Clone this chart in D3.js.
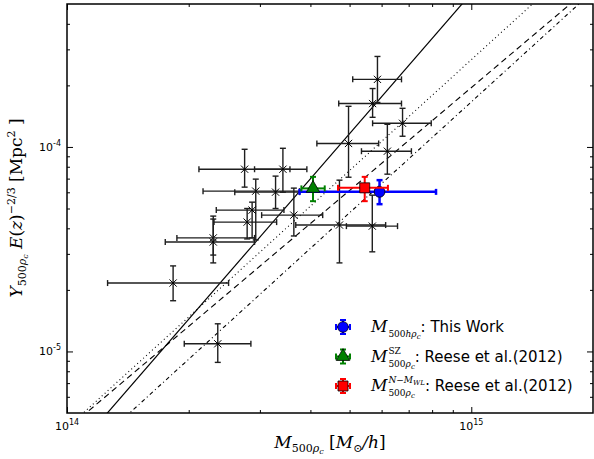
<!DOCTYPE html>
<html>
<head>
<meta charset="utf-8">
<script src="https://cdn.jsdelivr.net/npm/d3@7"></script>
<style>
body { margin: 0; background: #fff; }
svg { display: block; }
text { font-family: "DejaVu Sans", sans-serif; }
.math { font-family: "DejaVu Serif", serif; font-style: italic; }
.rm { font-family: "DejaVu Serif", serif; font-style: normal; }
</style>
</head>
<body>
<svg width="594" height="459"></svg>
<script>
// cluster sample, mass in 1e14 Msun/h, Y in 1e-5 Mpc^2
var mass   = [5.86, 5.70, 6.76, 4.97, 6.20, 2.75, 3.42, 2.93, 3.28, 2.87, 2.79, 3.64, 2.30, 2.30, 1.83, 2.36, 4.72, 5.69]
var massLo = [5.09, 4.70, 5.70, 4.15, 5.35, 2.12, 2.91, 2.17, 2.60, 2.34, 2.31, 3.03, 1.87, 1.75, 1.26, 1.95, 3.68, 4.91]
var massHi = [6.72, 6.72, 7.96, 5.90, 7.11, 3.56, 3.92, 3.76, 3.76, 3.44, 3.30, 4.29, 2.91, 2.91, 2.51, 2.85, 6.14, 6.57]
var ysz    = [21.4, 16.3, 13.05, 10.4, 9.53, 7.78, 7.78, 6.08, 6.01, 4.91, 4.29, 4.64, 3.59, 3.43, 2.16, 1.09, 4.15, 4.10]
var yszLo  = [16.5, 13.96, 11.28, 7.11, 7.36, 6.36, 6.01, 3.51, 5.0, 3.59, 3.55, 3.67, 2.96, 2.71, 1.77, 0.884, 2.71, 3.07]
var yszHi  = [27.7, 19.3, 15.45, 15.8, 12.9, 9.74, 9.85, 6.96, 7.2, 5.37, 5.0, 6.29, 4.59, 4.44, 2.62, 1.365, 6.88, 5.81]

// stacked mass estimates
var stackNames = ["This Work", "Reese et al.(2012)", "Reese et al.(2012)"]
var stackMass   = [5.93, 4.06, 5.45]
var stackMassLo = [3.76, 3.80, 4.68]
var stackMassHi = [8.18, 4.34, 6.22]
var stackY      = [6.03, 6.27, 6.31]
var stackYLo    = [5.25, 5.43, 5.43]
var stackYHi    = [6.88, 7.14, 7.14]
var stackColor  = ["#0000ff", "#008000", "#ff0000"]
var stackShape  = ["circle", "triangle", "square"]
var legSub = ["500hρ", "500ρ", "500ρ"]
var legSup = ["", "SZ", "N−M"]

// scaling relations Y = norm * (M / 1e15)^slope, norm in 1e-5
var relNorm  = [56.4, 26.7, 19.5, 16.6]
var relSlope = [2.28, 1.80, 1.67, 1.80]
var relDash  = [null, "1,3", "6,4", "4,3,1,3"]

var xTicks = [1e14, 1e15]
var yTicks = [1e-5, 1e-4]

var margin = { left: 67, top: 4, right: 1, bottom: 46 }
var width = 594 - margin.left - margin.right,
    height = 459 - margin.top - margin.bottom

var svg = d3.select("svg")
var g = svg.append("g").attr("transform", "translate(" + margin.left + "," + margin.top + ")")

var x = d3.scaleLog().domain([1e14, 2e15]).range([0, width])
var y = d3.scaleLog().domain([5e-6, 5e-4]).range([height, 0])

svg.append("clipPath").attr("id", "clip").append("rect")
    .attr("width", width).attr("height", height)

var plot = g.append("g").attr("clip-path", "url(#clip)")

// relations
relNorm.forEach(function(n, i) {
    var f = function(m) { return n * 1e-5 * Math.pow(m / 1e15, relSlope[i]) }
    var pts = [0.8e14, 2.5e15].map(function(m) { return [x(m), y(f(m))] })
    plot.append("path")
        .attr("d", d3.line()(pts))
        .attr("fill", "none")
        .attr("stroke", "#000")
        .attr("stroke-width", i == 0 ? 1.2 : 1.1)
        .attr("stroke-dasharray", relDash[i])
})

var cap = 3
function errbar(sel, cx, cy, x0, x1, y0, y1, color, sw) {
    var e = sel.append("g").attr("stroke", color).attr("stroke-width", sw).attr("fill", "none")
    e.append("line").attr("x1", x0).attr("x2", x1).attr("y1", cy).attr("y2", cy)
    e.append("line").attr("x1", cx).attr("x2", cx).attr("y1", y0).attr("y2", y1)
    e.append("line").attr("x1", x0).attr("x2", x0).attr("y1", cy - cap).attr("y2", cy + cap)
    e.append("line").attr("x1", x1).attr("x2", x1).attr("y1", cy - cap).attr("y2", cy + cap)
    e.append("line").attr("x1", cx - cap).attr("x2", cx + cap).attr("y1", y0).attr("y2", y0)
    e.append("line").attr("x1", cx - cap).attr("x2", cx + cap).attr("y1", y1).attr("y2", y1)
}

mass.forEach(function(m, i) {
    var cx = x(m * 1e14), cy = y(ysz[i] * 1e-5)
    errbar(plot, cx, cy, x(massLo[i] * 1e14), x(massHi[i] * 1e14),
        y(yszHi[i] * 1e-5), y(yszLo[i] * 1e-5), "#1e1e1e", 1.4)
    plot.append("path")
        .attr("d", d3.symbol().type(d3.symbolX).size(36)())
        .attr("transform", "translate(" + cx + "," + cy + ")")
        .attr("stroke", "#000").attr("stroke-width", 1).attr("fill", "none")
})

var symbols = { circle: d3.symbolCircle, triangle: d3.symbolTriangle, square: d3.symbolSquare }
var symSize = { circle: 90, triangle: 80, square: 100 }

function drawMarker(sel, cx, cy, i) {
    sel.append("path")
        .attr("d", d3.symbol().type(symbols[stackShape[i]]).size(symSize[stackShape[i]])())
        .attr("transform", "translate(" + cx + "," + cy + ")")
        .attr("fill", stackColor[i]).attr("stroke", "#000").attr("stroke-width", 0.8)
}

stackMass.forEach(function(m, i) {
    var cx = x(m * 1e14), cy = y(stackY[i] * 1e-5)
    errbar(plot, cx, cy, x(stackMassLo[i] * 1e14), x(stackMassHi[i] * 1e14),
        y(stackYHi[i] * 1e-5), y(stackYLo[i] * 1e-5), stackColor[i], i == 0 ? 2.5 : 2)
    drawMarker(plot, cx, cy, i)
})

// axes: ticks inside on all sides
function minors(dom) {
    var out = []
    for (var e = Math.floor(Math.log10(dom[0])); e <= Math.ceil(Math.log10(dom[1])); e++)
        for (var k = 2; k < 10; k++) {
            var v = k * Math.pow(10, e)
            if (v > dom[0] && v < dom[1]) out.push(v)
        }
    return out
}
var xMin = minors(x.domain()), yMin = minors(y.domain())

function addAxis(axis, tr) {
    var a = g.append("g").attr("transform", tr).call(axis)
    a.select(".domain").remove()
    a.selectAll("line").attr("stroke", "#000")
    return a
}
addAxis(d3.axisBottom(x).tickValues(xMin).tickSize(-3).tickFormat(""), "translate(0," + height + ")")
addAxis(d3.axisBottom(x).tickValues(xTicks).tickSize(-6).tickFormat(""), "translate(0," + height + ")")
addAxis(d3.axisTop(x).tickValues(xMin).tickSize(-3).tickFormat(""), "")
addAxis(d3.axisTop(x).tickValues(xTicks).tickSize(-6).tickFormat(""), "")
addAxis(d3.axisLeft(y).tickValues(yMin).tickSize(-3).tickFormat(""), "")
addAxis(d3.axisLeft(y).tickValues(yTicks).tickSize(-6).tickFormat(""), "")
addAxis(d3.axisRight(y).tickValues(yMin).tickSize(-3).tickFormat(""), "translate(" + width + ",0)")
addAxis(d3.axisRight(y).tickValues(yTicks).tickSize(-6).tickFormat(""), "translate(" + width + ",0)")

g.append("rect").attr("width", width).attr("height", height)
    .attr("fill", "none").attr("stroke", "#000").attr("stroke-width", 1.5)

function powLabel(sel, v) {
    sel.append("tspan").text("10")
    sel.append("tspan").attr("dy", -5).attr("font-size", 8).text(Math.round(Math.log10(v)))
}
xTicks.forEach(function(v) {
    var t = g.append("text").attr("x", x(v)).attr("y", height + 17)
        .attr("text-anchor", "middle").attr("font-size", 11)
    powLabel(t, v)
})
yTicks.forEach(function(v) {
    var t = g.append("text").attr("x", -6).attr("y", y(v) + 4)
        .attr("text-anchor", "end").attr("font-size", 11)
    powLabel(t, v)
})

// axis titles
var xl = svg.append("text").attr("x", 330).attr("y", 448).attr("text-anchor", "middle")
    .attr("font-size", 17)
xl.append("tspan").attr("class", "math").text("M")
xl.append("tspan").attr("class", "rm").attr("font-size", 11).attr("dy", 4).text("500")
xl.append("tspan").attr("class", "math").attr("font-size", 11).text("ρ")
xl.append("tspan").attr("class", "math").attr("font-size", 8).attr("dy", 2).text("c")
xl.append("tspan").attr("class", "rm").attr("dy", -6).text(" [")
xl.append("tspan").attr("class", "math").text("M")
xl.append("tspan").attr("class", "rm").attr("font-size", 11).attr("dy", 4).text("⊙")
xl.append("tspan").attr("class", "math").attr("dy", -4).text("/h")
xl.append("tspan").attr("class", "rm").text("]")

var yl = svg.append("text").attr("transform", "translate(22,208) rotate(-90)")
    .attr("text-anchor", "middle").attr("font-size", 17)
yl.append("tspan").attr("class", "math").text("Y")
yl.append("tspan").attr("class", "rm").attr("font-size", 11).attr("dy", 4).text("500")
yl.append("tspan").attr("class", "math").attr("font-size", 11).text("ρ")
yl.append("tspan").attr("class", "math").attr("font-size", 8).attr("dy", 2).text("c")
yl.append("tspan").attr("class", "math").attr("dy", -6).text(" E")
yl.append("tspan").attr("class", "rm").text("(")
yl.append("tspan").attr("class", "math").text("z")
yl.append("tspan").attr("class", "rm").text(")")
yl.append("tspan").attr("class", "rm").attr("font-size", 11).attr("dy", -7).text("−2/3")
yl.append("tspan").attr("class", "rm").attr("dy", 7).text("  [Mpc")
yl.append("tspan").attr("class", "rm").attr("font-size", 11).attr("dy", -7).text("2")
yl.append("tspan").attr("class", "rm").attr("dy", 7).text(" ]")

// legend
var leg = svg.append("g").attr("transform", "translate(343,327)")
stackNames.forEach(function(name, i) {
    var row = leg.append("g").attr("transform", "translate(0," + (i * 29.5) + ")")
    errbar(row, 0, 0, -7, 7, -7, 7, stackColor[i], 2)
    drawMarker(row, 0, 0, i)

    var m = row.append("text").attr("class", "math").attr("x", 28).attr("y", 5)
        .attr("font-size", 16).text("M")
    var sx = 28 + m.node().getComputedTextLength() + 1

    var sub = row.append("text").attr("x", sx).attr("y", 10).attr("font-size", 9)
    sub.append("tspan").attr("class", "rm").text(legSub[i].slice(0, 3))
    sub.append("tspan").attr("class", "math").text(legSub[i].slice(3))
    sub.append("tspan").attr("class", "math").attr("font-size", 7).attr("dy", 2).text("c")
    var end = sx + sub.node().getComputedTextLength()

    if (legSup[i]) {
        var sup = row.append("text").attr("x", sx).attr("y", -3).attr("font-size", 9)
        sup.append("tspan").attr("class", i == 1 ? "rm" : "math").text(legSup[i])
        if (i == 2) sup.append("tspan").attr("class", "math").attr("font-size", 7).attr("dy", 2).text("WL")
        end = Math.max(end, sx + sup.node().getComputedTextLength())
    }
    row.append("text").attr("x", end).attr("y", 5).attr("font-size", 15).text(": " + name)
})
</script>
</body>
</html>
